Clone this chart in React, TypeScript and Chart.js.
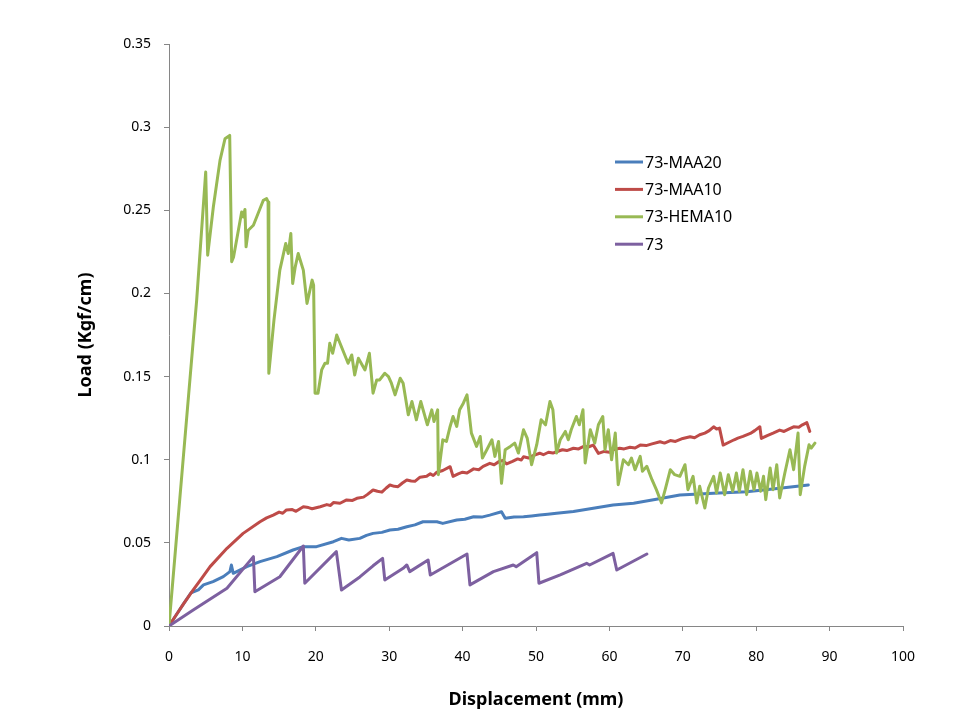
import React, { useEffect, useRef } from 'react';
import { Chart, registerables } from 'chart.js';

Chart.register(...registerables);

const seriesNames = ['73-MAA20', '73-MAA10', '73-HEMA10', '73'];
const seriesColors = ['#4A7EBB', '#BE4B48', '#98B954', '#7D60A0'];

const xTicks = [0, 10, 20, 30, 40, 50, 60, 70, 80, 90, 100];
const xTickLabels = ['0', '10', '20', '30', '40', '50', '60', '70', '80', '90', '100'];
const yTicks = [0, 0.05, 0.1, 0.15, 0.2, 0.25, 0.3, 0.35];
const yTickLabels = ['0', '0.05', '0.1', '0.15', '0.2', '0.25', '0.3', '0.35'];

const xTitle = 'Displacement (mm)';
const yTitle = 'Load (Kgf/cm)';

// 73-MAA20
const maa20X = [0, 1, 2, 3, 4, 4.7, 6.0, 7.4, 8.3, 8.5, 8.75, 10.6, 12.4, 14.7, 16.9, 18.3, 20.1, 22.4, 23.5, 24.5, 26.0, 26.9, 27.8, 29.0, 30.1, 31.2, 32.4, 33.5, 34.6, 36.5, 37.3, 39.2, 40.3, 41.5, 42.6, 43.7, 45.3, 45.8, 47.0, 48.3, 49.4, 50.5, 51.6, 52.8, 55.1, 57.8, 60.5, 63.3, 66.4, 69.6, 74.2, 78.7, 83.2, 87.1];
const maa20Y = [0, 0.0068, 0.0135, 0.02, 0.0217, 0.0247, 0.0267, 0.0297, 0.0327, 0.0367, 0.0317, 0.0357, 0.0387, 0.0417, 0.0457, 0.0477, 0.0477, 0.0507, 0.0527, 0.0517, 0.0527, 0.0545, 0.0557, 0.0563, 0.0577, 0.0582, 0.0597, 0.0608, 0.0627, 0.0627, 0.0617, 0.0637, 0.0642, 0.0657, 0.0655, 0.0667, 0.0687, 0.0648, 0.0655, 0.0657, 0.0662, 0.0667, 0.0672, 0.0678, 0.0688, 0.0708, 0.0728, 0.0738, 0.0762, 0.0788, 0.0798, 0.0808, 0.0828, 0.0848];

// 73-MAA10
const maa10X = [0, 1, 2, 3.3, 4.5, 5.6, 7.9, 10.1, 12.4, 13.3, 14.2, 15.0, 15.5, 16.0, 16.8, 17.3, 18.3, 19.0, 19.5, 20.6, 21.5, 22.0, 22.4, 23.3, 24.2, 25.0, 25.6, 26.5, 27.0, 27.8, 28.4, 29.0, 29.6, 30.1, 30.7, 31.2, 31.8, 32.4, 33.0, 33.5, 34.2, 35.1, 35.6, 36.0, 36.5, 37.3, 38.3, 38.7, 39.4, 40.0, 40.6, 41.5, 42.2, 42.8, 43.7, 44.3, 45.0, 45.5, 46.0, 46.8, 47.5, 48.0, 48.3, 49.0, 49.6, 50.5, 51.0, 51.7, 52.3, 52.8, 53.6, 54.2, 55.1, 55.8, 56.5, 57.2, 57.8, 58.5, 59.3, 60.0, 60.5, 61.4, 62.0, 62.8, 63.5, 64.2, 65.0, 65.8, 66.9, 67.5, 68.3, 69.0, 70.0, 71.0, 71.6, 72.3, 73.0, 73.6, 74.2, 74.6, 75.0, 75.5, 76.3, 77.0, 77.5, 78.2, 79.2, 79.8, 80.5, 80.7, 81.5, 82.3, 83.2, 83.8, 84.5, 85.1, 85.8, 86.3, 86.9, 87.3];
const maa10Y = [0, 0.0068, 0.0135, 0.0217, 0.029, 0.0357, 0.0467, 0.0557, 0.0627, 0.065, 0.0667, 0.0685, 0.0678, 0.0698, 0.07, 0.069, 0.0717, 0.0712, 0.0705, 0.0717, 0.073, 0.0725, 0.0742, 0.0738, 0.0758, 0.0755, 0.0768, 0.0775, 0.079, 0.0818, 0.081, 0.0805, 0.083, 0.0848, 0.084, 0.0838, 0.086, 0.0878, 0.0872, 0.087, 0.0895, 0.09, 0.0915, 0.0905, 0.0925, 0.0935, 0.0958, 0.09, 0.0915, 0.0925, 0.092, 0.0945, 0.094, 0.096, 0.0978, 0.097, 0.099, 0.0995, 0.0975, 0.099, 0.1005, 0.0998, 0.1018, 0.101, 0.1025, 0.1039, 0.103, 0.1045, 0.104, 0.1048, 0.106, 0.1055, 0.1069, 0.1065, 0.108, 0.1078, 0.1088, 0.1038, 0.105, 0.1045, 0.106, 0.1069, 0.1065, 0.1075, 0.107, 0.1088, 0.1085, 0.1095, 0.1108, 0.11, 0.1115, 0.111, 0.1128, 0.1138, 0.1132, 0.115, 0.116, 0.1175, 0.1198, 0.1185, 0.119, 0.1088, 0.1105, 0.112, 0.113, 0.114, 0.1158, 0.1175, 0.1198, 0.1128, 0.1145, 0.116, 0.1178, 0.117, 0.1185, 0.1198, 0.1195, 0.121, 0.1223, 0.117];

// 73-HEMA10
const hemaX = [0, 3.77, 5.0, 5.27, 6.04, 6.95, 7.63, 8.27, 8.54, 8.8, 9.9, 10.1, 10.35, 10.5, 10.8, 11.5, 12.85, 13.3, 13.5, 13.6, 14.3, 15.1, 15.5, 15.9, 16.25, 16.6, 16.85, 17.2, 17.6, 18.3, 18.8, 19.5, 19.7, 19.9, 20.3, 20.8, 21.25, 21.6, 21.9, 22.3, 22.85, 23.3, 24.4, 24.9, 25.3, 25.8, 26.7, 27.3, 27.8, 28.3, 28.7, 29.4, 29.9, 30.3, 30.8, 31.5, 31.9, 32.6, 33.1, 33.7, 34.3, 35.2, 35.8, 36.1, 36.6, 36.7, 37.3, 37.8, 38.3, 38.7, 39.2, 39.6, 40.1, 40.6, 41.2, 41.9, 42.4, 42.7, 43.3, 44.0, 44.4, 44.9, 45.3, 45.8, 46.5, 47.1, 47.6, 48.3, 48.8, 49.4, 50.1, 50.7, 51.3, 51.9, 52.3, 52.8, 53.3, 54.0, 54.4, 54.8, 55.5, 55.9, 56.4, 56.7, 57.4, 58.0, 58.5, 59.1, 59.4, 59.85, 60.3, 60.8, 61.2, 61.9, 62.6, 63.0, 63.5, 64.2, 64.5, 65.1, 65.8, 66.4, 67.1, 67.6, 68.3, 68.9, 69.6, 70.3, 70.7, 71.4, 71.9, 72.3, 73.0, 73.5, 74.2, 74.6, 75.1, 75.7, 76.2, 76.8, 77.3, 77.7, 78.2, 78.7, 79.2, 79.7, 80.1, 80.6, 81.0, 81.3, 81.9, 82.3, 82.8, 83.2, 83.9, 84.6, 85.1, 85.7, 86.0, 86.6, 87.2, 87.5, 88.0];
const hemaY = [0, 0.196, 0.273, 0.223, 0.252, 0.28, 0.293, 0.295, 0.219, 0.222, 0.249, 0.246, 0.2505, 0.228, 0.238, 0.241, 0.256, 0.257, 0.255, 0.152, 0.184, 0.214, 0.222, 0.23, 0.224, 0.236, 0.206, 0.216, 0.224, 0.214, 0.194, 0.208, 0.205, 0.14, 0.14, 0.154, 0.158, 0.158, 0.17, 0.164, 0.175, 0.17, 0.158, 0.163, 0.151, 0.161, 0.154, 0.164, 0.14, 0.148, 0.148, 0.152, 0.15, 0.146, 0.139, 0.149, 0.146, 0.127, 0.135, 0.124, 0.135, 0.121, 0.13, 0.123, 0.13, 0.091, 0.112, 0.111, 0.12, 0.126, 0.12, 0.13, 0.134, 0.139, 0.116, 0.108, 0.114, 0.101, 0.106, 0.112, 0.102, 0.111, 0.0858, 0.106, 0.108, 0.11, 0.104, 0.118, 0.113, 0.097, 0.109, 0.124, 0.121, 0.135, 0.13, 0.104, 0.112, 0.117, 0.112, 0.118, 0.126, 0.121, 0.13, 0.098, 0.118, 0.11, 0.121, 0.126, 0.106, 0.118, 0.1, 0.116, 0.085, 0.1, 0.097, 0.101, 0.094, 0.102, 0.093, 0.096, 0.088, 0.082, 0.074, 0.082, 0.094, 0.091, 0.09, 0.097, 0.082, 0.09, 0.074, 0.084, 0.071, 0.083, 0.09, 0.08, 0.092, 0.079, 0.091, 0.081, 0.092, 0.081, 0.094, 0.079, 0.093, 0.082, 0.092, 0.081, 0.09, 0.076, 0.095, 0.082, 0.097, 0.077, 0.092, 0.106, 0.094, 0.116, 0.079, 0.096, 0.109, 0.107, 0.11];

// 73
const plainX = [0, 3.3, 7.9, 11.5, 11.7, 15.1, 18.3, 18.5, 22.8, 23.5, 26.0, 27.8, 29.1, 29.4, 31.9, 32.4, 32.8, 35.3, 35.6, 40.6, 41.0, 44.2, 46.9, 47.3, 50.1, 50.4, 53.3, 56.9, 57.3, 60.5, 61.0, 65.1];
const plainY = [0, 0.0096, 0.0227, 0.0417, 0.0206, 0.0296, 0.0481, 0.0257, 0.0447, 0.0216, 0.0295, 0.0362, 0.0407, 0.0277, 0.0347, 0.0367, 0.0327, 0.0397, 0.0307, 0.0433, 0.0247, 0.0327, 0.0367, 0.0357, 0.0441, 0.0257, 0.0307, 0.0377, 0.0367, 0.0437, 0.0337, 0.0433];

const seriesX = [maa20X, maa10X, hemaX, plainX];
const seriesY = [maa20Y, maa10Y, hemaY, plainY];

const FONT = "'Noto Sans', sans-serif";

const legendPlugin = {
  id: 'insideLegend',
  afterDraw(chart: any) {
    const ctx = chart.ctx;
    ctx.save();
    ctx.font = `16px ${FONT}`;
    ctx.textBaseline = 'middle';
    ctx.textAlign = 'left';
    chart.data.datasets.forEach((ds: any, i: number) => {
      const y = 162 + i * 27.4;
      ctx.strokeStyle = ds.borderColor;
      ctx.lineWidth = 3;
      ctx.beginPath();
      ctx.moveTo(615, y);
      ctx.lineTo(643, y);
      ctx.stroke();
      ctx.fillStyle = '#000';
      ctx.fillText(ds.label, 645, y + 1);
    });
    ctx.restore();
  },
};

export default function App() {
  const ref = useRef<HTMLCanvasElement>(null);
  useEffect(() => {
    if (!ref.current) return;
    const datasets = seriesNames.map((name, i) => ({
      label: name,
      data: seriesX[i].map((x, j) => ({ x, y: seriesY[i][j] })),
      borderColor: seriesColors[i],
      backgroundColor: seriesColors[i],
      borderWidth: 3,
      pointRadius: 0,
      showLine: true,
      tension: 0,
      fill: false,
      borderJoinStyle: 'round' as const,
      borderCapStyle: 'round' as const,
      order: 4 - i,
    }));
    const chart = new Chart(ref.current, {
      type: 'scatter',
      data: { datasets },
      plugins: [legendPlugin],
      options: {
        animation: false,
        responsive: false,
        devicePixelRatio: 1,
        layout: { padding: { left: 75, top: 44, right: 57, bottom: 9 } },
        plugins: { legend: { display: false }, tooltip: { enabled: false } },
        scales: {
          x: {
            type: 'linear',
            min: 0,
            max: 100,
            afterBuildTicks: (s: any) => { s.ticks = xTicks.map((v) => ({ value: v })); },
            afterFit: (s: any) => { s.height = 720 - 9 - 626; },
            ticks: {
              callback: (_v: any, i: number) => xTickLabels[i],
              color: '#000',
              font: { family: FONT, size: 14 },
              padding: 18,
              maxRotation: 0,
            },
            grid: { display: true, drawOnChartArea: false, drawTicks: true, tickLength: 5, color: '#868686', lineWidth: 1 },
            border: { display: true, color: '#868686', width: 1 },
            title: { display: true, text: xTitle, color: '#000', font: { family: FONT, size: 18, weight: 'bold' }, padding: 0 },
          },
          y: {
            type: 'linear',
            min: 0,
            max: 0.35,
            afterBuildTicks: (s: any) => { s.ticks = yTicks.map((v) => ({ value: v })); },
            afterFit: (s: any) => { s.width = 169 - 75; },
            ticks: {
              callback: (_v: any, i: number) => yTickLabels[i],
              color: '#000',
              font: { family: FONT, size: 14 },
              padding: 13,
            },
            grid: { display: true, drawOnChartArea: false, drawTicks: true, tickLength: 5, color: '#868686', lineWidth: 1 },
            border: { display: true, color: '#868686', width: 1 },
            title: { display: true, text: yTitle, color: '#000', font: { family: FONT, size: 18, weight: 'bold' }, padding: 0 },
          },
        },
      } as any,
    });
    return () => chart.destroy();
  }, []);
  return (
    <div style={{ position: 'absolute', left: 0, top: 0, width: 960, height: 720, background: '#fff' }}>
      <canvas ref={ref} width={960} height={720} style={{ display: 'block', width: 960, height: 720 }} />
    </div>
  );
}
